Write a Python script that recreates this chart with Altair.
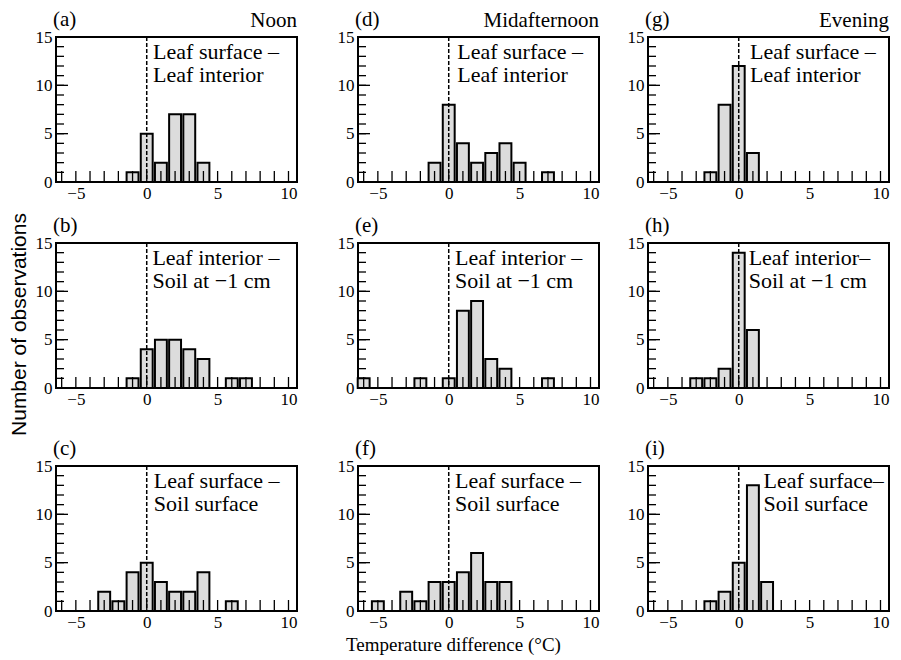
import altair as alt
import pandas as pd

# ---------------- data ----------------
# temperature difference classes (deg C) and number of observations
a_t = [-1, 0, 1, 2, 3, 4]
a_n = [1, 5, 2, 7, 7, 2]
b_t = [-1, 0, 1, 2, 3, 4, 6, 7]
b_n = [1, 4, 5, 5, 4, 3, 1, 1]
c_t = [-3, -2, -1, 0, 1, 2, 3, 4, 6]
c_n = [2, 1, 4, 5, 3, 2, 2, 4, 1]
d_t = [-1, 0, 1, 2, 3, 4, 5, 7]
d_n = [2, 8, 4, 2, 3, 4, 2, 1]
e_t = [-6, -2, 0, 1, 2, 3, 4, 7]
e_n = [1, 1, 1, 8, 9, 3, 2, 1]
f_t = [-5, -3, -2, -1, 0, 1, 2, 3, 4]
f_n = [1, 2, 1, 3, 3, 4, 6, 3, 3]
g_t = [-2, -1, 0, 1]
g_n = [1, 8, 12, 3]
h_t = [-3, -2, -1, 0, 1]
h_n = [1, 1, 2, 14, 6]
i_t = [-2, -1, 0, 1, 2]
i_n = [1, 2, 5, 13, 3]

column_titles = ["Noon", "Midafternoon", "Evening"]
panel_letters = ["(a)", "(b)", "(c)", "(d)", "(e)", "(f)", "(g)", "(h)", "(i)"]
pair_text = {
    "(a)": "Leaf surface \u2013\nLeaf interior",
    "(b)": "Leaf interior \u2013\nSoil at \u22121 cm",
    "(c)": "Leaf surface \u2013\nSoil surface",
    "(d)": "Leaf surface \u2013\nLeaf interior",
    "(e)": "Leaf interior \u2013\nSoil at \u22121 cm",
    "(f)": "Leaf surface \u2013\nSoil surface",
    "(g)": "Leaf surface \u2013\nLeaf interior",
    "(h)": "Leaf interior\u2013\nSoil at \u22121 cm",
    "(i)": "Leaf surface\u2013\nSoil surface",
}
text_x = {"(a)": 0.45, "(b)": 0.4, "(c)": 0.5, "(d)": 0.6, "(e)": 0.45,
          "(f)": 0.45, "(g)": 0.8, "(h)": 0.7, "(i)": 1.75}
zero_line = [0]
x_label_ticks = [-5, 0, 5, 10]
x_minor_ticks = list(range(-6, 11))
y_label_ticks = [0, 5, 10, 15]
y_minor_ticks = list(range(0, 16))

SERIF = "Liberation Serif"
SANS = "Liberation Sans"
W, H = 241, 145
XDOM = [-6.4, 10.6]
YDOM = [0, 15]


def panel(t, n, letter, top_title=None, ytitle=False, xtitle=False):
    xs = alt.Scale(domain=XDOM, nice=False, zero=False)
    ys = alt.Scale(domain=YDOM, nice=False, zero=True)
    df = pd.DataFrame({"t": t, "n": n})

    xaxis_kw = dict(values=x_label_ticks, ticks=False, domain=False, grid=False,
                    labelFont=SERIF, labelFontSize=17, labelColor="black",
                    labelPadding=3, labelFlush=False)
    if xtitle:
        xaxis_kw.update(titleFont=SERIF,
                        titleFontSize=19, titleFontWeight="normal", titleColor="black",
                        titleX=95, titleY=39, titleAlign="center",
                        titleBaseline="alphabetic")
    yaxis_kw = dict(values=y_label_ticks, ticks=False, domain=False, grid=False,
                    labelFont=SERIF, labelFontSize=17, labelColor="black",
                    labelPadding=4, labelFlush=False)
    if ytitle:
        yaxis_kw.update(titleFont=SANS,
                        titleFontSize=21, titleFontWeight="normal", titleColor="black",
                        titleX=-31, titleY=81, titleAlign="center",
                        titleBaseline="alphabetic", titleAngle=270)
    xaxis = alt.Axis(**xaxis_kw)
    yaxis = alt.Axis(**yaxis_kw)

    xt = "Temperature difference (\u00b0C)" if xtitle else None
    yt = "Number of observations" if ytitle else None

    def X(f):
        return alt.X(f, scale=xs, axis=xaxis, title=xt)

    def Y(f):
        return alt.Y(f, scale=ys, axis=yaxis, title=yt)

    bars = alt.Chart(df).transform_calculate(
        x0="datum.t - 0.42", x1="datum.t + 0.42"
    ).mark_bar(fill="#dcdcdc", stroke="black", strokeWidth=2).encode(
        x=X("x0:Q"), x2="x1:Q", y=Y("n:Q"), y2=alt.datum(0),
    )

    dashed = alt.Chart(pd.DataFrame({"z": zero_line})).mark_rule(
        color="black", strokeWidth=1.5, strokeDash=[4, 2]
    ).encode(x=X("z:Q"))

    ymin = alt.Chart(pd.DataFrame({"v": y_minor_ticks})).mark_rule(
        color="black", strokeWidth=1.3
    ).encode(y=Y("v:Q"), x=alt.value(0), x2=alt.value(8))
    ymaj = alt.Chart(pd.DataFrame({"v": y_label_ticks})).mark_rule(
        color="black", strokeWidth=1.3
    ).encode(y=Y("v:Q"), x=alt.value(0), x2=alt.value(12))
    xmin = alt.Chart(pd.DataFrame({"v": x_minor_ticks})).mark_rule(
        color="black", strokeWidth=1.3
    ).encode(x=X("v:Q"), y=alt.value(H), y2=alt.value(H - 11))

    ann = alt.Chart(pd.DataFrame({"x": [text_x[letter]], "y": [12.7],
                                  "s": [pair_text[letter]]})).mark_text(
        align="left", baseline="alphabetic", font=SERIF, fontSize=22,
        lineBreak="\n", lineHeight=23, color="black"
    ).encode(x=X("x:Q"), y=Y("y:Q"), text="s:N")

    lab = alt.Chart(pd.DataFrame({"s": [letter]})).mark_text(
        align="left", baseline="alphabetic", font=SERIF, fontSize=21, color="black"
    ).encode(text="s:N", x=alt.value(-3), y=alt.value(-11))

    layers = [bars, xmin, dashed, ymin, ymaj, ann, lab]
    if top_title:
        tt = alt.Chart(pd.DataFrame({"s": [top_title]})).mark_text(
            align="right", baseline="alphabetic", font=SERIF, fontSize=21, color="black"
        ).encode(text="s:N", x=alt.value(W), y=alt.value(-10))
        layers.append(tt)
    return alt.layer(*layers).properties(width=W, height=H)


pa = panel(a_t, a_n, "(a)", top_title=column_titles[0])
pb = panel(b_t, b_n, "(b)", ytitle=True)
pc = panel(c_t, c_n, "(c)")
pdd = panel(d_t, d_n, "(d)", top_title=column_titles[1])
pe = panel(e_t, e_n, "(e)")
pf = panel(f_t, f_n, "(f)", xtitle=True)
pg = panel(g_t, g_n, "(g)", top_title=column_titles[2])
ph = panel(h_t, h_n, "(h)")
pi = panel(i_t, i_n, "(i)")


def row(p1, p2, p3):
    return alt.HConcatChart(
        hconcat=[alt.HConcatChart(hconcat=[p1, p2], spacing=38), p3],
        spacing=26)


chart = alt.VConcatChart(
    vconcat=[alt.VConcatChart(vconcat=[row(pa, pdd, pg), row(pb, pe, ph)],
                              spacing=9),
             row(pc, pf, pi)],
    spacing=0,
).properties(
    padding={"left": -2, "top": 0, "right": 0, "bottom": 0},
    background="white",
).configure_view(
    stroke="black", strokeWidth=2
)

chart.save("out.html", embed_options={"renderer": "svg", "actions": False})
